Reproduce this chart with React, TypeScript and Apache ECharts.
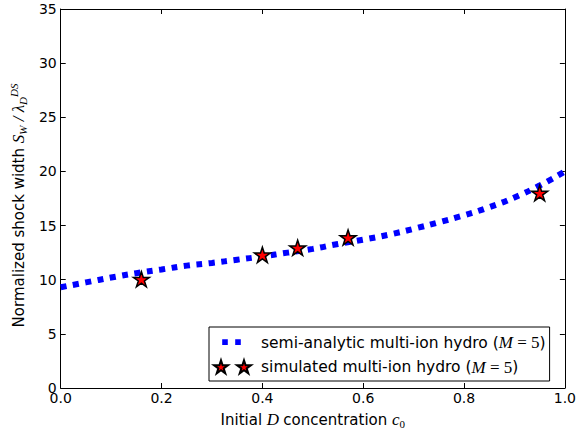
import React, { useEffect, useRef } from "react";
import * as echarts from "echarts";

const xTicks = [0, 0.2, 0.4, 0.6, 0.8, 1.0];
const yTicks = [0, 5, 10, 15, 20, 25, 30, 35];

const curveX = [0, 0.05, 0.1, 0.15, 0.2, 0.25, 0.3, 0.35, 0.4, 0.45, 0.5, 0.55, 0.6, 0.65, 0.7, 0.75, 0.8, 0.85, 0.9, 0.95, 1.0];
const curveY = [9.3, 9.75, 10.2, 10.6, 10.95, 11.3, 11.55, 11.85, 12.15, 12.5, 12.85, 13.3, 13.7, 14.15, 14.7, 15.3, 15.95, 16.7, 17.6, 18.7, 20.0];

const simX = [0.16, 0.40, 0.47, 0.57, 0.95];
const simY = [10.05, 12.3, 12.95, 13.9, 18.0];

const seriesNames = ["semi-analytic multi-ion hydro", "simulated multi-ion hydro"];
const modelLabel = " ({i|M}{m| = 5})";

function starPath(cx: number, cy: number, R: number): string {
  const r = R * 0.382;
  const pts: string[] = [];
  for (let k = 0; k < 10; k++) {
    const ang = (-90 + k * 36) * Math.PI / 180;
    const rad = k % 2 === 0 ? R : r;
    pts.push(`${(cx + rad * Math.cos(ang)).toFixed(2)} ${(cy + rad * Math.sin(ang)).toFixed(2)}`);
  }
  return "M" + pts.join(" L") + " Z";
}

const STAR = "path://" + starPath(50, 52.5, 50);
const STAR_ICON = "path://M0 0 M42 16 " + starPath(7, 8.5, 7.3) + " " + starPath(30, 8.5, 7.3);
const SQUARE_ICON = "path://M0 0 M42 16 M8.2 4.8 L13.8 4.8 L13.8 10.4 L8.2 10.4 Z M21.2 4.8 L26.8 4.8 L26.8 10.4 L21.2 10.4 Z";

export default function App() {
  const ref = useRef<HTMLDivElement>(null);
  useEffect(() => {
    if (!ref.current) return;
    const chart = echarts.init(ref.current, undefined, { renderer: "svg" });
    const font = "DejaVu Sans";
    const math = "Liberation Serif";
    const axisCommon = {
      type: "value" as const,
      axisLine: { show: true, onZero: false, lineStyle: { color: "#000", width: 1 } },
      axisTick: { show: true, inside: true, length: 5, lineStyle: { color: "#000", width: 1 } },
      splitLine: { show: false },
    };
    chart.setOption({
      animation: false,
      backgroundColor: "#fff",
      grid: { left: 58, right: 13, top: 9, bottom: 48, containLabel: false },
      xAxis: [
        {
          ...axisCommon,
          min: xTicks[0],
          max: xTicks[xTicks.length - 1],
          interval: 0.2,
          position: "bottom",
          axisLabel: { color: "#000", fontFamily: font, fontSize: 14, margin: 3, formatter: (v: number) => v.toFixed(1), showMinLabel: true, showMaxLabel: true },
          name: "Initial {i|D }concentration {i|c}{s|0}",
          nameLocation: "middle",
          nameGap: 22,
          nameTextStyle: {
            color: "#000", fontFamily: font, fontSize: 15,
            rich: {
              i: { fontFamily: math, fontStyle: "italic", fontSize: 17, color: "#000" },
              s: { fontFamily: math, fontSize: 11, color: "#000", padding: [8, 0, 0, 0] },
            },
          },
        },
        {
          ...axisCommon,
          min: xTicks[0],
          max: xTicks[xTicks.length - 1],
          interval: 0.2,
          position: "top",
          axisLabel: { show: false },
        },
      ],
      yAxis: [
        {
          ...axisCommon,
          min: yTicks[0],
          max: yTicks[yTicks.length - 1],
          interval: 5,
          position: "left",
          axisLabel: { color: "#000", fontFamily: font, fontSize: 14, margin: 4 },
          name: "Normalized shock width {i|S}{s|W}{m| / λ}{s|D}{p|DS}",
          nameLocation: "middle",
          nameRotate: 90,
          nameGap: 30,
          nameTextStyle: {
            color: "#000", fontFamily: font, fontSize: 15,
            padding: [0, 14, 0, 0],
            rich: {
              i: { fontFamily: math, fontStyle: "italic", fontSize: 17, color: "#000" },
              m: { fontFamily: math, fontStyle: "italic", fontSize: 17, color: "#000" },
              s: { fontFamily: math, fontStyle: "italic", fontSize: 11, color: "#000", padding: [8, 0, 0, 0] },
              p: { fontFamily: math, fontStyle: "italic", fontSize: 11, color: "#000", padding: [0, 0, 10, 0] },
            },
          },
        },
        {
          ...axisCommon,
          min: yTicks[0],
          max: yTicks[yTicks.length - 1],
          interval: 5,
          position: "right",
          axisLabel: { show: false },
        },
      ],
      legend: {
        orient: "vertical",
        left: 209,
        top: 327,
        padding: [7, 4, 5, 4],
        itemGap: 7,
        itemWidth: 42,
        itemHeight: 16,
        backgroundColor: "#fff",
        borderColor: "#000",
        borderWidth: 1,
        borderRadius: 0,
        textStyle: {
          color: "#000", fontFamily: font, fontSize: 15.5, lineHeight: 16,
          rich: {
            i: { fontFamily: math, fontStyle: "italic", fontSize: 17, color: "#000", lineHeight: 16 },
            m: { fontFamily: math, fontSize: 17, color: "#000", lineHeight: 16 },
          },
        },
        formatter: (name: string) => name + modelLabel,
        data: [
          { name: seriesNames[0], icon: SQUARE_ICON },
          { name: seriesNames[1], icon: STAR_ICON },
        ],
      },
      series: [
        {
          name: seriesNames[0],
          type: "line",
          data: curveX.map((x, i) => [x, curveY[i]]),
          smooth: true,
          showSymbol: false,
          symbol: "none",
          itemStyle: { color: "#0000ff" },
          lineStyle: { color: "#0000ff", width: 6, type: [6, 6.5], cap: "butt" },
          z: 2,
        },
        {
          name: seriesNames[1],
          type: "scatter",
          data: simX.map((x, i) => [x, simY[i]]),
          symbol: STAR,
          symbolSize: 16,
          symbolKeepAspect: true,
          itemStyle: { color: "#ff0000", borderColor: "#000", borderWidth: 1.5, opacity: 1 },
          z: 3,
        },
      ],
    });
    return () => chart.dispose();
  }, []);
  return <div ref={ref} style={{ width: 579, height: 436, position: "fixed", left: 0, top: 0 }} />;
}
